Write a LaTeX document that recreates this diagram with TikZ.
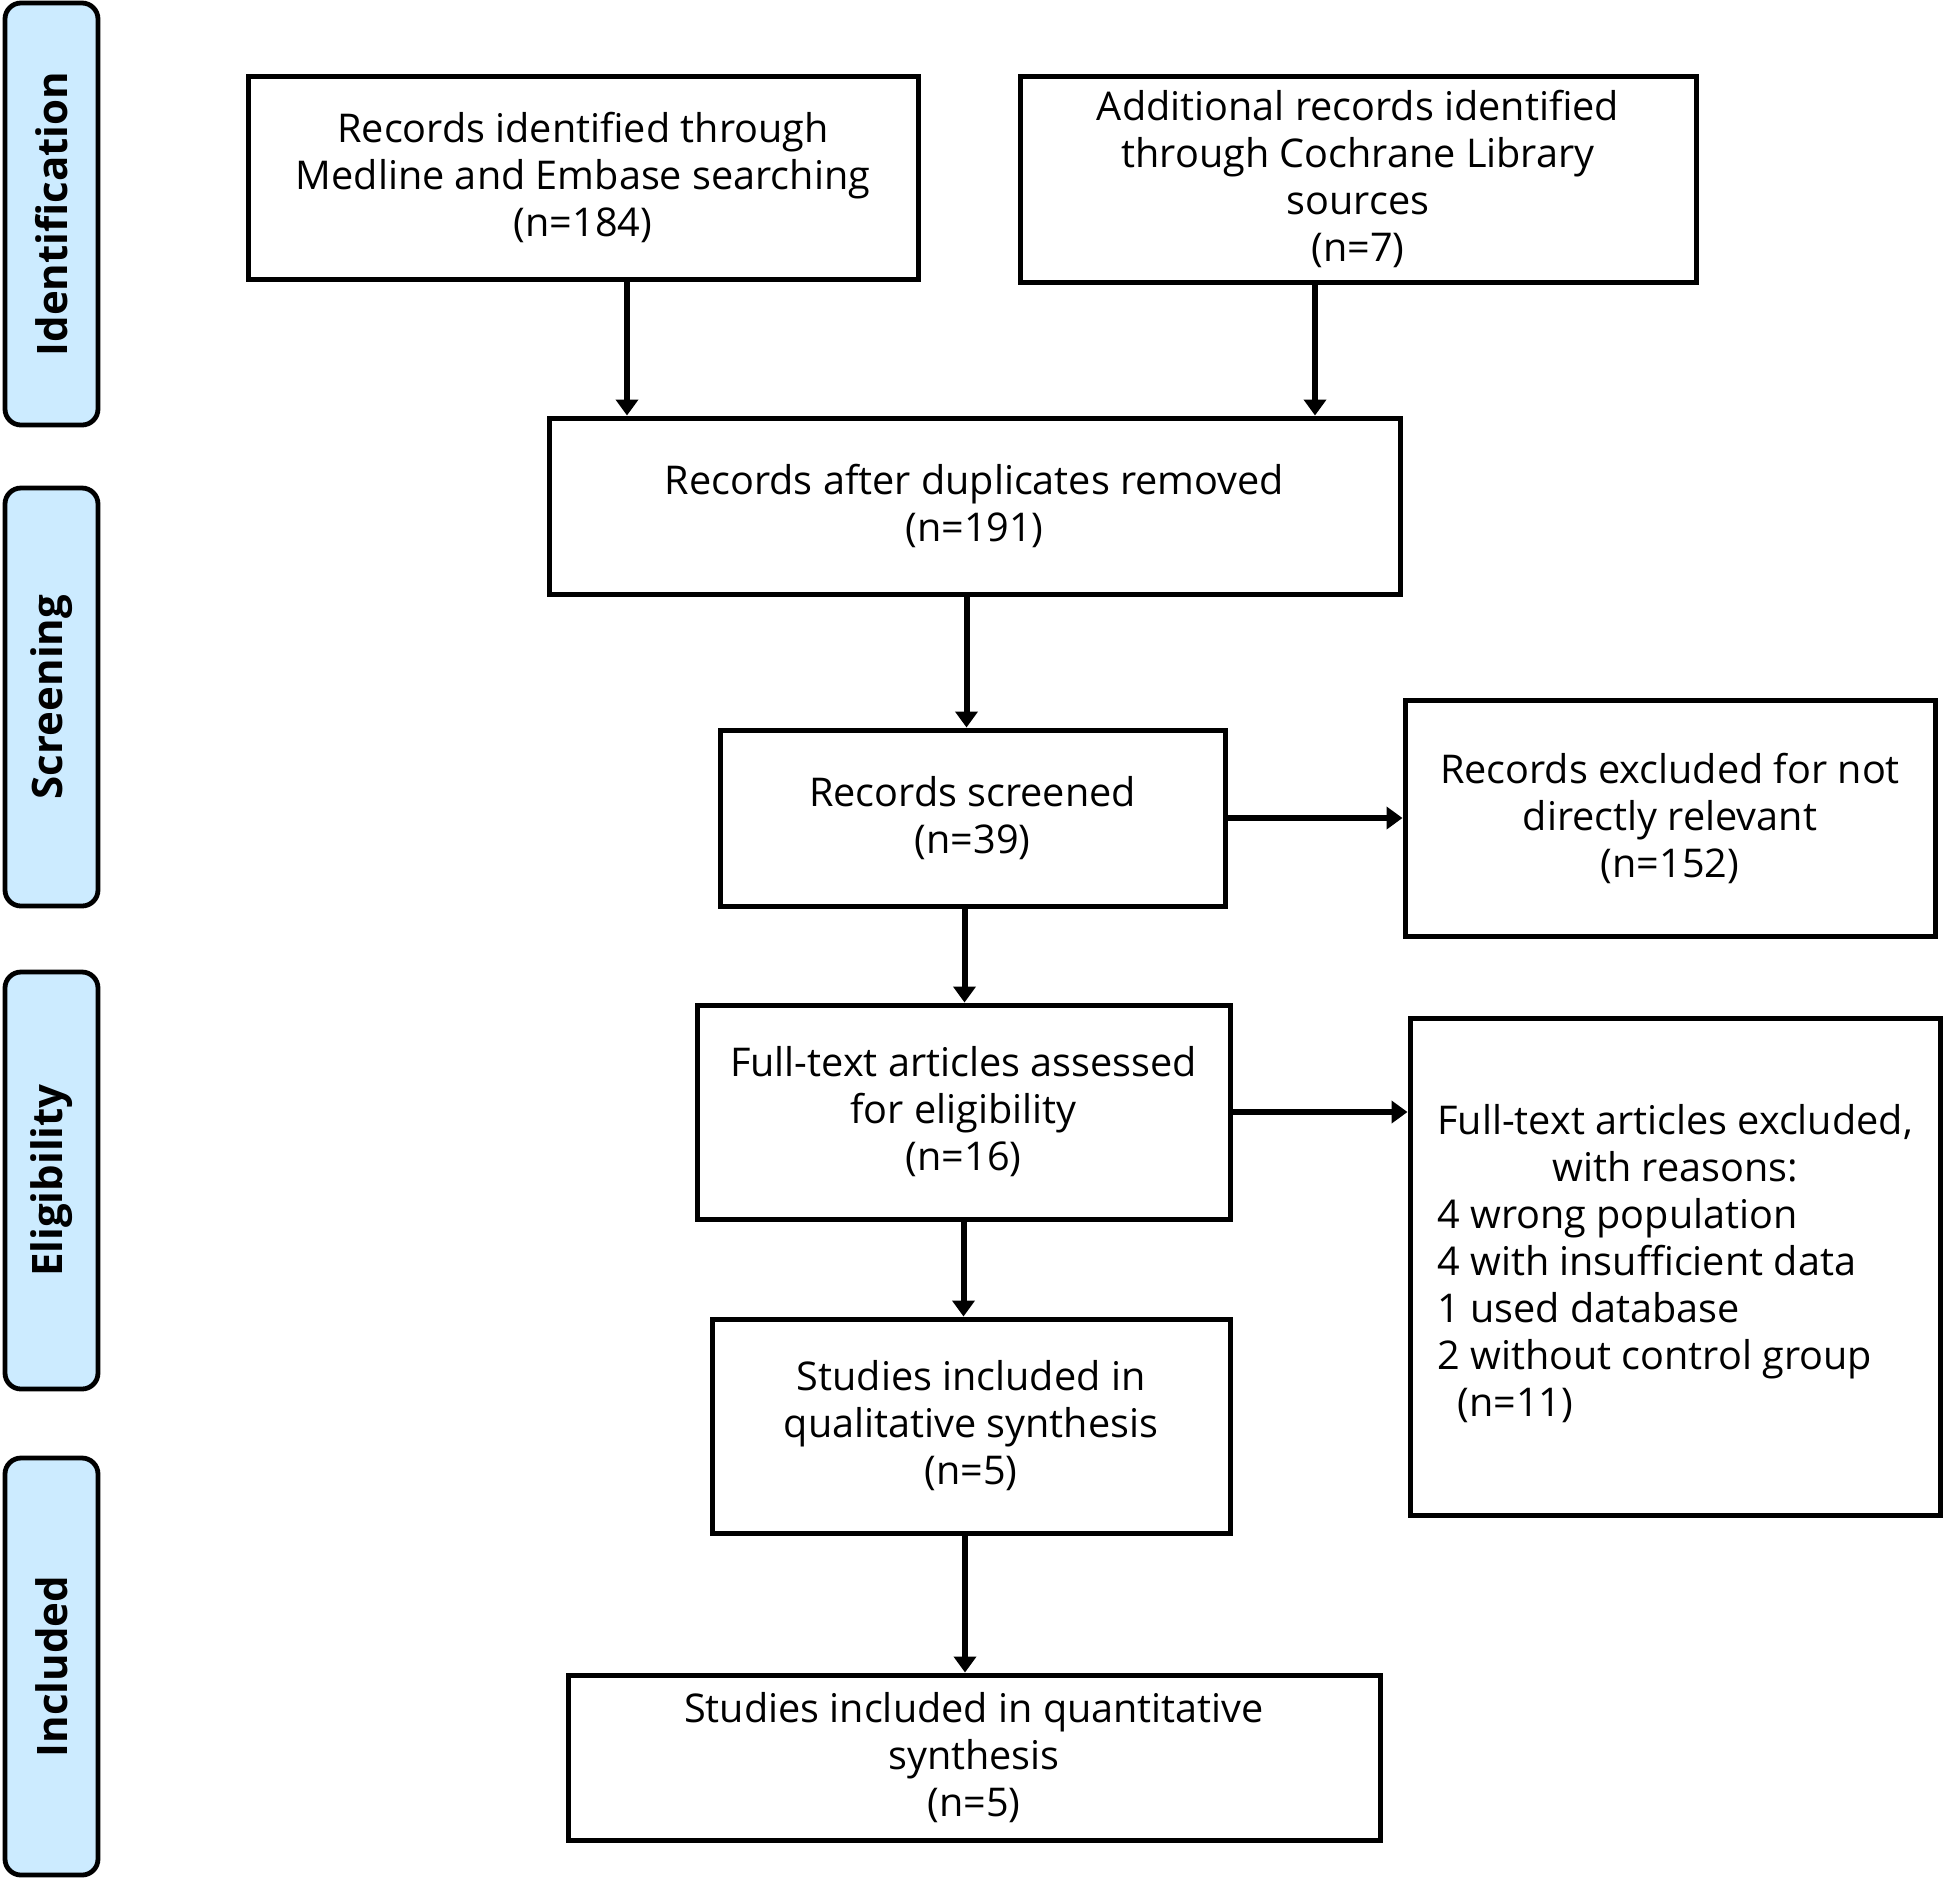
\documentclass[tikz,border=0pt]{standalone}
\usepackage{fontspec}
\setmainfont{Open Sans}
\usetikzlibrary{arrows.meta}
\definecolor{stagefill}{RGB}{204,235,255}

\begin{document}
\begin{tikzpicture}[x=0.5pt,y=-0.5pt,
        font=\fontsize{19.8}{23.5}\selectfont,
        box/.style={draw, line width=2.5pt, align=center, inner sep=0pt},
        stage/.style={draw, line width=2.4pt, fill=stagefill, rounded corners=8pt, rotate=90,
                minimum height=46.5pt, font=\bfseries\fontsize{21}{24}\selectfont},
        arr/.style={line width=3pt, -{Triangle[width=11pt,length=8pt]}}]
        \useasboundingbox (0,0) rectangle (1946,1881);
        % stages on the left
        \node[stage, minimum width=211pt] (ident) at (51.5,214) {Identification};
        \node[stage, minimum width=209pt] (screen) at (51.5,697) {Screening};
        \node[stage, minimum width=208.5pt] (elig) at (51.5,1180.5) {Eligibility};
        \node[stage, minimum width=208.5pt] (incl) at (51.5,1666.5) {Included};
        % boxes
        \node[box, minimum width=335pt, minimum height=101.5pt] (medline) at (583,177.5)
                {Records identified through\\ Medline and Embase searching\\ (n=184)};
        \node[box, minimum width=338pt, minimum height=103pt] (cochrane) at (1358,179)
                {Additional records identified\\ through Cochrane Library\\ sources\\ (n=7)};
        \node[box, minimum width=425.5pt, minimum height=88pt] (dupl) at (974.5,506)
                {Records after duplicates removed\\ (n=191)};
        \node[box, minimum width=252.5pt, minimum height=88pt] (screened) at (972.5,818)
                {Records screened\\ (n=39)};
        \node[box, minimum width=265pt, minimum height=118pt] (excl) at (1670,818)
                {Records excluded for not\\ directly relevant\\ (n=152)};
        \node[box, minimum width=266.5pt, minimum height=107pt] (fulltext) at (963.5,1112)
                {Full-text articles assessed\\ for eligibility\\ (n=16)};
        \node[box, minimum width=265pt, minimum height=248.5pt] (ftexcl) at (1675,1266.5)
                {\begin{tabular}{@{}l@{}}
                \multicolumn{1}{@{}c@{}}{Full-text articles excluded,}\\
                \multicolumn{1}{@{}c@{}}{with reasons:}\\
                4 wrong population\\
                4 with insufficient data\\
                1 used database\\
                2 without control group\\
                \hspace*{10pt}(n=11)
                \end{tabular}};
        \node[box, minimum width=259pt, minimum height=107pt] (qual) at (971,1426)
                {Studies included in\\ qualitative synthesis\\ (n=5)};
        \node[box, minimum width=406pt, minimum height=82.5pt] (quant) at (974,1757.5)
                {Studies included in quantitative\\ synthesis\\ (n=5)};
        % arrows
        \draw[arr] ([xshift=22pt]medline.south) -- ([xshift=22pt]medline.south |- dupl.north);
        \draw[arr] ([xshift=-21.5pt]cochrane.south) -- ([xshift=-21.5pt]cochrane.south |- dupl.north);
        \draw[arr] ([xshift=-4pt]dupl.south) -- ([xshift=-4pt]dupl.south |- screened.north);
        \draw[arr] (screened.east) -- (excl.west);
        \draw[arr] ([xshift=-4pt]screened.south) -- ([xshift=-4pt]screened.south |- fulltext.north);
        \draw[arr] (fulltext.east) -- (fulltext.east -| ftexcl.west);
        \draw[arr] (fulltext.south) -- (fulltext.south |- qual.north);
        \draw[arr] ([xshift=-3pt]qual.south) -- ([xshift=-3pt]qual.south |- quant.north);
\end{tikzpicture}
\end{document}
